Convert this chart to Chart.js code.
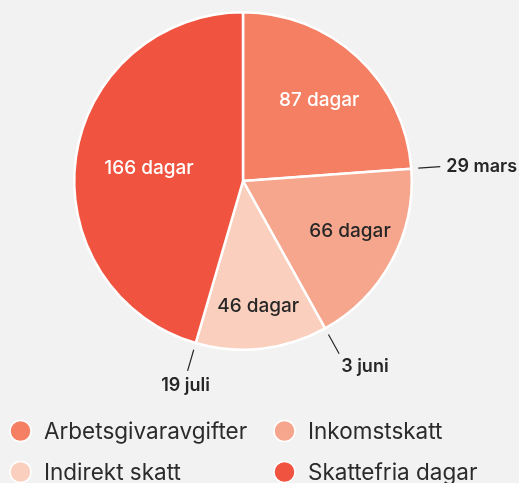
<!DOCTYPE html>
<html>
<head>
<meta charset="utf-8">
<script src="https://cdn.jsdelivr.net/npm/chart.js@4/dist/chart.umd.min.js"></script>
<style>
  html, body { margin: 0; padding: 0; background: #f2f2f2; }
  #wrap { position: relative; width: 519px; height: 483px; }
  canvas { display: block; }
</style>
</head>
<body>
<div id="wrap"><canvas id="c" width="519" height="483"></canvas></div>
<script>
// Data
const categories = ['Arbetsgivaravgifter', 'Inkomstskatt', 'Indirekt skatt', 'Skattefria dagar'];
const days = [87, 66, 46, 166];
const sliceLabels = ['87 dagar', '66 dagar', '46 dagar', '166 dagar'];
const boundaryDates = ['29 mars', '3 juni', '19 juli'];

const colors = ['#f47f63', '#f6a68c', '#fbcfbd', '#f0533f'];
const labelColors = ['#ffffff', '#262626', '#262626', '#ffffff'];
const labelRadius = [112, 118, 125, 95];
const labelAngleShift = [0, -0.06, -0.01, 0];
const FONT = 'Inter, "Noto Sans", sans-serif';

const piePlugin = {
  id: 'pieLabels',
  afterDatasetsDraw(chart) {
    const ctx = chart.ctx;
    const meta = chart.getDatasetMeta(0);
    ctx.save();
    // Inner labels
    ctx.font = '500 19px ' + FONT;
    ctx.textAlign = 'center';
    ctx.textBaseline = 'middle';
    meta.data.forEach((arc, i) => {
      const p = arc.getProps(['x', 'y', 'startAngle', 'endAngle'], true);
      const mid = (p.startAngle + p.endAngle) / 2 + labelAngleShift[i];
      ctx.fillStyle = labelColors[i];
      ctx.fillText(sliceLabels[i], p.x + Math.cos(mid) * labelRadius[i], p.y + Math.sin(mid) * labelRadius[i] + 1);
    });
    // Boundary date labels
    ctx.font = '600 18px ' + FONT;
    ctx.strokeStyle = '#262626';
    ctx.lineWidth = 1.2;
    ctx.fillStyle = '#262626';
    boundaryDates.forEach((txt, i) => {
      const arc = meta.data[i];
      const p = arc.getProps(['x', 'y', 'endAngle', 'outerRadius'], true);
      const a = p.endAngle;
      const r1 = p.outerRadius + 7, r2 = p.outerRadius + 29;
      const x1 = p.x + Math.cos(a) * r1, y1 = p.y + Math.sin(a) * r1;
      const x2 = p.x + Math.cos(a) * r2, y2 = p.y + Math.sin(a) * r2;
      ctx.beginPath(); ctx.moveTo(x1, y1); ctx.lineTo(x2, y2); ctx.stroke();
      const cosA = Math.cos(a);
      if (Math.abs(cosA) > 0.8) {
        ctx.textAlign = cosA > 0 ? 'left' : 'right';
        ctx.textBaseline = 'middle';
        ctx.fillText(txt, x2 + (cosA > 0 ? 6 : -6), y2);
      } else if (cosA > 0.3) {
        ctx.textAlign = 'left';
        ctx.textBaseline = 'top';
        ctx.fillText(txt, x2 + 2, y2 + 4);
      } else {
        ctx.textAlign = 'center';
        ctx.textBaseline = 'top';
        ctx.fillText(txt, x2 - 2, y2 + 6);
      }
    });
    // Legend
    ctx.font = '400 22.5px ' + FONT;
    ctx.textAlign = 'left';
    ctx.textBaseline = 'middle';
    const colX = [20.5, 284.5];
    const rowY = [431, 472];
    categories.forEach((c, i) => {
      const cx = colX[i % 2], cy = rowY[Math.floor(i / 2)];
      ctx.beginPath();
      ctx.arc(cx, cy, 10.5, 0, Math.PI * 2);
      ctx.fillStyle = colors[i];
      ctx.fill();
      ctx.lineWidth = 1.5;
      ctx.strokeStyle = '#ffffff';
      ctx.stroke();
      ctx.fillStyle = '#2b2b2b';
      ctx.fillText(c, cx + 23.5, cy + 1);
    });
    ctx.restore();
  }
};

new Chart(document.getElementById('c'), {
  type: 'pie',
  data: {
    labels: categories,
    datasets: [{
      data: days,
      backgroundColor: colors,
      borderColor: '#ffffff',
      borderWidth: 2.5,
      hoverOffset: 0
    }]
  },
  options: {
    responsive: false,
    animation: false,
    layout: { padding: { left: 73, right: 106, top: 11, bottom: 132 } },
    plugins: { legend: { display: false }, tooltip: { enabled: false } }
  },
  plugins: [piePlugin]
});
</script>
</body>
</html>
